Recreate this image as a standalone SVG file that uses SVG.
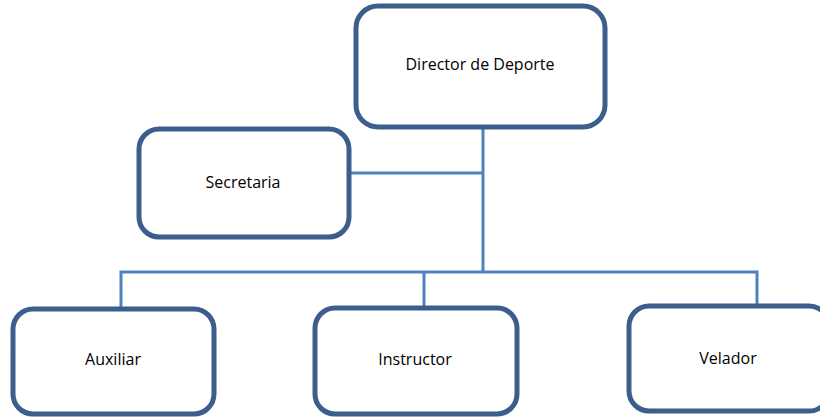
<svg xmlns="http://www.w3.org/2000/svg" width="820" height="417" viewBox="0 0 820 417">
<style>
.box{fill:#fff;stroke:#3b5e8c;stroke-width:5}
.lbl{font-family:"Open Sans","Liberation Sans",sans-serif;font-size:16px;fill:#000;text-anchor:middle}
.con{fill:none;stroke:#4f81bd;stroke-width:3}
</style>
<rect width="820" height="417" fill="#fff"/>
<g id="connectors">
<path class="con" d="M483,127 V272"/>
<path class="con" d="M349,173 H483"/>
<path class="con" d="M121,308 V272 H757 V304"/>
<path class="con" d="M424,272 V306"/>
</g>
<g id="director"><rect class="box" x="356" y="6" width="249" height="121" rx="22"/><text class="lbl" x="480" y="70">Director de Deporte</text></g>
<g id="secretaria"><rect class="box" x="139" y="129" width="210" height="108" rx="20"/><text class="lbl" x="243" y="188">Secretaria</text></g>
<g id="auxiliar"><rect class="box" x="13" y="309" width="201" height="105" rx="20"/><text class="lbl" x="113" y="365">Auxiliar</text></g>
<g id="instructor"><rect class="box" x="315" y="308" width="202" height="106" rx="20"/><text class="lbl" x="415" y="365">Instructor</text></g>
<g id="velador"><rect class="box" x="629" y="306" width="200" height="105" rx="20"/><text class="lbl" x="728" y="364">Velador</text></g>
</svg>
